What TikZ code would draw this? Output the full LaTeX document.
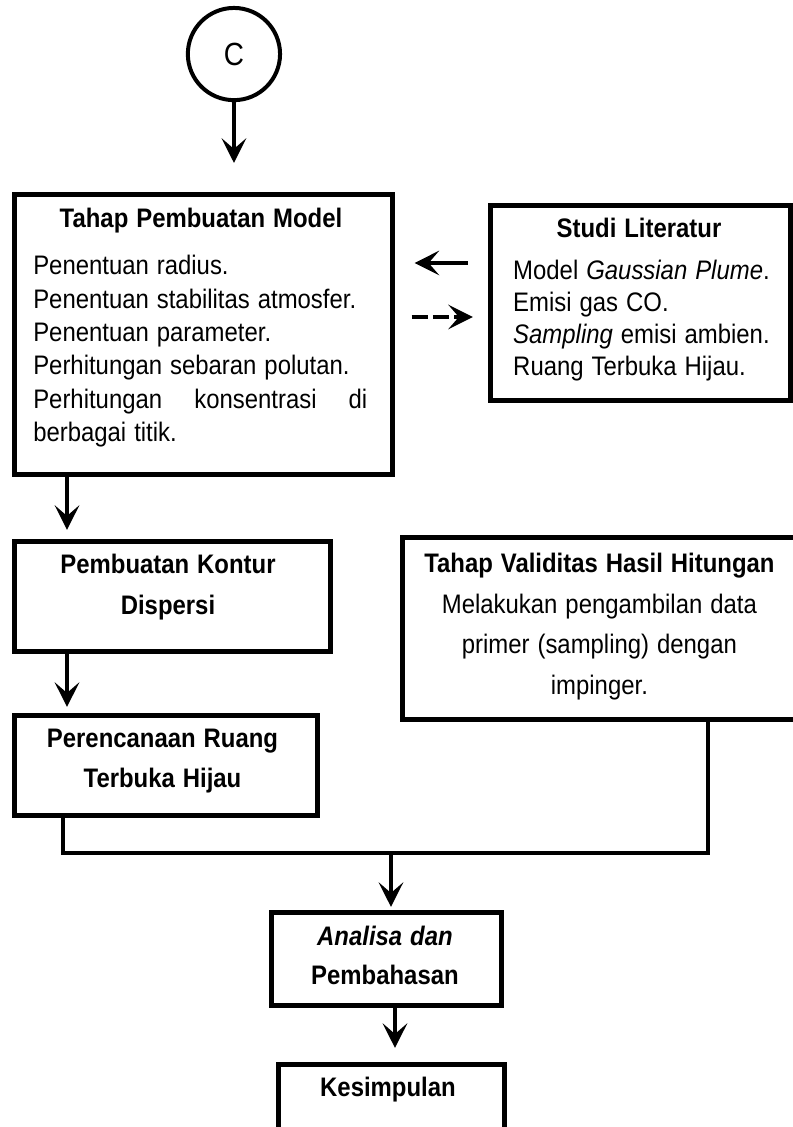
\documentclass[tikz,border=0pt]{standalone}
\usepackage{fontspec}
\setmainfont{Liberation Sans}
\usetikzlibrary{arrows.meta}

\begin{document}
\begin{tikzpicture}[
    box/.style={draw,line width=3.5pt,anchor=north west,inner sep=0pt},
    arr/.style={line width=3pt,-{Stealth[length=6.5mm,width=6.5mm,inset=2.8mm]}},
    txt/.style={inner sep=0pt,anchor=base,align=center,yscale=1.12,transform shape,font=\fontsize{18}{26.8}\selectfont},
  ]
  \useasboundingbox(0,0)rectangle(20.98,-29.82);
  \clip(0,0)rectangle(20.98,-29.82);
  \fill[white](0,0)rectangle(20.98,-29.82);
  % connector C
  \node[draw,circle,line width=3pt,minimum size=2.44cm,inner sep=0pt,font=\fontsize{21}{24}\selectfont](c)at(6.19,-1.43){\scalebox{1}[1.15]{C}};
  % boxes
  \node[box,minimum width=10cm,minimum height=7.41cm](model)at(0.318,-5.08){};
  \node[box,minimum width=7.94cm,minimum height=5.16cm](studi)at(12.911,-5.371){};
  \node[box,minimum width=8.36cm,minimum height=2.91cm](kontur)at(0.318,-14.261){};
  \node[box,minimum width=8.02cm,minimum height=2.645cm](rencana)at(0.318,-18.865){};
  \node[box,minimum width=11cm,minimum height=4.815cm](validitas)at(10.583,-14.155){};
  \node[box,minimum width=6.085cm,minimum height=2.46cm](analisa)at(7.117,-24.077){};
  \node[box,minimum width=5.98cm,minimum height=3cm](kesimpulan)at(7.302,-28.098){};
  % texts
  \node[txt,text width=9.5cm](modelhead)at(5.318,-6.03){\textbf{Tahap Pembuatan Model}};
  \node[txt,anchor=base west,text width=8.84cm,align=left,font=\fontsize{18}{22.4}\selectfont](modelbody)at(0.873,-7.276){Penentuan radius.\\Penentuan stabilitas atmosfer.\\Penentuan parameter.\\Perhitungan sebaran polutan.\\Perhitungan\hfill konsentrasi\hfill di\\berbagai titik.};
  \node[txt,text width=7.5cm](studihead)at(16.907,-6.297){\textbf{Studi Literatur}};
  \node[txt,anchor=base west,text width=7.2cm,align=left,font=\fontsize{18}{21.4}\selectfont](studibody)at(13.573,-7.408){Model \textit{Gaussian Plume}.\\Emisi gas CO.\\\textit{Sampling} emisi ambien.\\Ruang Terbuka Hijau.};
  \node[txt,text width=8cm,font=\fontsize{18}{27.5}\selectfont](konturtxt)at(4.445,-15.187){\textbf{Pembuatan Kontur}\\\textbf{Dispersi}};
  \node[txt,text width=7.8cm](rencanatxt)at(4.30,-19.79){\textbf{Perencanaan Ruang}\\\textbf{Terbuka Hijau}};
  \node[txt,text width=10cm,font=\fontsize{18}{27.2}\selectfont](validitastxt)at(15.86,-15.16){\textbf{Tahap Validitas Hasil Hitungan}\\Melakukan pengambilan data\\primer (sampling) dengan\\impinger.};
  \node[txt,text width=6cm,font=\fontsize{18}{26.1}\selectfont](analisatxt)at(10.186,-25.03){\textbf{\textit{Analisa dan}}\\\textbf{Pembahasan}};
  \node[txt,text width=5.8cm](kesimpulantxt)at(10.266,-29.0){\textbf{Kesimpulan}};
  % connectors
  \coordinate(dl)at(0,-6.958);
  \coordinate(dr)at(0,-8.387);
  \coordinate(km)at(1.773,0);
  \coordinate(am)at(10.451,0);
  \coordinate(jl)at(1.667,-22.569);
  \coordinate(jm)at(10.345,-22.569);
  \coordinate(jr)at(18.732,-22.569);
  \draw[arr,shorten >=0.77cm](c.south)--(c.south|-model.north);
  \draw[arr,shorten <=0.53cm,shorten >=0.53cm](studi.west|-dl)--(model.east|-dl);
  \draw[arr,dash pattern=on 12pt off 4pt,shorten <=0.45cm,shorten >=0.4cm](model.east|-dr)--(studi.west|-dr);
  \draw[arr,shorten >=0.24cm](model.south-|km)--(kontur.north-|km);
  \draw[arr,shorten >=0.16cm](kontur.south-|km)--(rencana.north-|km);
  \draw[line width=3pt](rencana.south-|jl)--(jl)--(jr)--(validitas.south-|jr);
  \draw[arr,shorten >=0.08cm](jm)--(jm|-analisa.north);
  \draw[arr,shorten >=0.37cm](analisa.south-|am)--(kesimpulan.north-|am);
\end{tikzpicture}
\end{document}
